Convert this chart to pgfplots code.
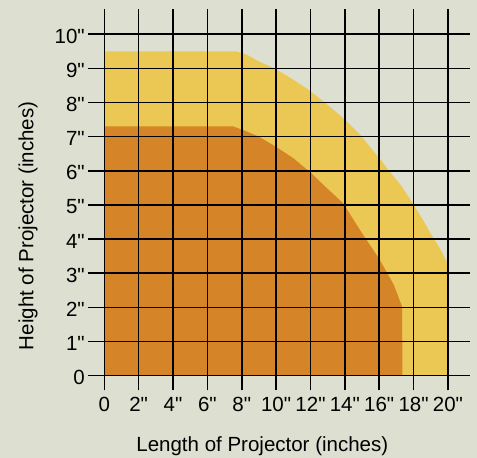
\documentclass[border=0pt]{standalone}
\usepackage{fontspec}
\setmainfont{Liberation Sans}[Ligatures=TeXOff]
\usepackage{pgfplots}
\pgfplotsset{compat=1.18}

\definecolor{bgc}{HTML}{DDE0D0}
\definecolor{yellowc}{HTML}{EBC853}
\definecolor{orangec}{HTML}{D58527}

\newcommand{\chartfont}{\fontsize{20.5bp}{24bp}\selectfont}

\begin{document}
\begin{tikzpicture}
\path[use as bounding box, fill=bgc] (0,0) rectangle (477bp,458bp);
\begin{axis}[
  at={(88.3bp,67.7bp)}, anchor=south west,
  scale only axis, width=382bp, height=381bp,
  xmin=-0.931, xmax=21.30, ymin=-0.428, ymax=10.73,
  axis on top,
  axis line style={draw=none},
  major tick length=0pt,
  grid=major,
  major grid style={black, line width=1.5bp},
  xtick={0,2,...,20},
  xticklabels={0,2",4",6",8",10",12",14",16",18",20"},
  ytick={0,1,...,10},
  yticklabels={0,1",2",3",4",5",6",7",8",9",10"},
  tick label style={font=\chartfont},
  xticklabel style={yshift=-3.5bp},
  yticklabel style={yshift=-2bp},
  xlabel={Length of Projector (inches)},
  ylabel={Height of Projector (inches)},
  every axis x label/.style={at={(axis description cs:0.4555,-0.146)}, anchor=center, font=\chartfont},
  every axis y label/.style={at={(axis description cs:-0.1576,0.4316)}, anchor=center, rotate=90, font=\chartfont},
]
% outer (yellow) region
\addplot[fill=yellowc, draw=none] coordinates {
  (0,0) (0,9.5) (7.7,9.5) (8.3,9.4) (9.0,9.2) (9.9,9.0) (10.9,8.7)
  (11.9,8.37) (12.9,7.97) (14.0,7.5) (14.9,7.05) (16.0,6.37)
  (16.6,5.98) (17.3,5.55) (17.95,5.05) (18.5,4.6) (18.95,4.2)
  (19.5,3.75) (19.98,3.3) (20.03,0) (0,0)
};
% inner (orange) region
\addplot[fill=orangec, draw=none] coordinates {
  (0,0) (0,7.3) (7.5,7.3) (8.2,7.17) (9.0,7.0) (10.0,6.7) (11.0,6.37)
  (12.0,5.95) (13.0,5.47) (13.9,5.05) (14.9,4.25) (16.0,3.42)
  (16.85,2.66) (17.33,2.02) (17.35,0) (0,0)
};
\end{axis}
\end{tikzpicture}
\end{document}
